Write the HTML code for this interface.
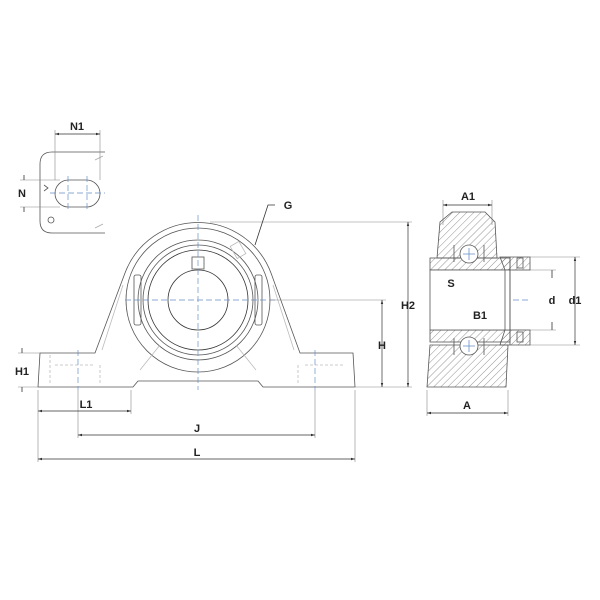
<!DOCTYPE html>
<html><head><style>body{margin:0;background:#fff}svg{display:block}text{font-family:"Liberation Sans",sans-serif;font-weight:bold;font-size:11px;fill:#222}</style></head>
<body>
<svg width="600" height="600" viewBox="0 0 600 600" xmlns="http://www.w3.org/2000/svg">
<defs>
<pattern id="h" width="5" height="5" patternUnits="userSpaceOnUse" patternTransform="rotate(45)"><line x1="0" y1="0" x2="0" y2="5" stroke="#666" stroke-width="0.7"/></pattern>
<marker id="a" viewBox="0 0 10 10" refX="10" refY="5" markerWidth="6" markerHeight="6" orient="auto-start-reverse"><path d="M0,2L10,5L0,8z" fill="#333"/></marker>
</defs>
<g fill="none" stroke="#555" stroke-width="0.8">
<!-- inset -->
<path d="M105,152 H52 Q40,152 40,164 V221 Q40,233 52,233 H105"/>
<path d="M44,185 l4,3 -4,3"/>
<rect x="55" y="180" width="45" height="27" rx="13.5"/>
<circle cx="51" cy="220" r="3"/>
<path d="M95,160 l8,-4 M95,228 l8,-4" stroke="#aaa"/>
<!-- main body -->
<path d="M38,387 L40,353 H95 L125,273 A78,78 0 0 1 271,273 L300,353 H353 L355,387 H263 L258,381 H138 L133,387 Z"/>
<circle cx="198" cy="300" r="72"/>
<circle cx="198" cy="300" r="60"/>
<circle cx="198" cy="300" r="55"/>
<circle cx="198" cy="300" r="50" stroke="#333"/>
<circle cx="198" cy="300" r="30" stroke="#333"/>
<rect x="134" y="275" width="7" height="50" rx="2"/>
<rect x="255" y="275" width="7" height="50" rx="2"/>
<rect x="192" y="257" width="12" height="12"/>
<rect x="233" y="243" width="10" height="14" stroke="#bbb" transform="rotate(-30 238 250)"/>
<path d="M50,355 V385 M305,365 H345 M55,365 H95 M100,365 V383 M298,365 V383" stroke="#bbb" stroke-dasharray="3,2"/>
<path d="M123,285 L102,350 M273,285 L294,350 M140,370 L160,345 M256,370 L236,345" stroke="#bbb"/>
<!-- centerlines -->
<g stroke="#6a8fc8" stroke-dasharray="6,3" stroke-width="0.7">
<line x1="198" y1="215" x2="198" y2="390"/><line x1="125" y1="300" x2="275" y2="300"/>
<line x1="78" y1="350" x2="78" y2="390"/><line x1="315" y1="350" x2="315" y2="390"/>
<line x1="68" y1="176" x2="68" y2="212"/><line x1="87" y1="176" x2="87" y2="212"/><line x1="50" y1="193" x2="105" y2="193"/>
<line x1="432" y1="300" x2="530" y2="300"/>
</g>
<!-- extension lines -->
<g stroke="#888" stroke-width="0.6">
<line x1="210" y1="222" x2="412" y2="222"/><line x1="270" y1="300" x2="386" y2="300"/><line x1="355" y1="387" x2="412" y2="387"/>
<line x1="18" y1="353" x2="40" y2="353"/><line x1="18" y1="387" x2="38" y2="387"/>
<line x1="38" y1="390" x2="38" y2="462"/><line x1="355" y1="390" x2="355" y2="462"/><line x1="131" y1="390" x2="131" y2="414"/>
<line x1="78" y1="390" x2="78" y2="438"/><line x1="315" y1="390" x2="315" y2="438"/>
<line x1="55" y1="130" x2="55" y2="180"/><line x1="100" y1="130" x2="100" y2="180"/>
<line x1="20" y1="180" x2="60" y2="180"/><line x1="20" y1="207" x2="60" y2="207"/>
<line x1="443" y1="200" x2="443" y2="225"/><line x1="492" y1="200" x2="492" y2="225"/>
<line x1="427" y1="390" x2="427" y2="416"/><line x1="508" y1="390" x2="508" y2="416"/>
<line x1="530" y1="257" x2="580" y2="257"/><line x1="530" y1="345" x2="580" y2="345"/>
<line x1="512" y1="270" x2="556" y2="270"/><line x1="512" y1="330" x2="556" y2="330"/>
</g>
<!-- dimension lines -->
<g stroke="#333" stroke-width="0.7" marker-start="url(#a)" marker-end="url(#a)">
<line x1="38" y1="411" x2="131" y2="411"/><line x1="78" y1="435" x2="315" y2="435"/><line x1="38" y1="459" x2="355" y2="459"/>
<line x1="408" y1="222" x2="408" y2="387"/><line x1="382" y1="300" x2="382" y2="387"/>
<line x1="55" y1="134" x2="100" y2="134"/>
<line x1="443" y1="205" x2="492" y2="205"/><line x1="427" y1="413" x2="508" y2="413"/>
<line x1="433" y1="291" x2="467" y2="291"/><line x1="433" y1="322" x2="510" y2="322"/>
<line x1="575" y1="257" x2="575" y2="345"/>
</g>
<path d="M22,348 V353 M22,387 V392 M24,175 V180 M24,207 V212 M552,270 V278 M552,322 V330" stroke="#333"/>
<path d="M275,205 H268 L255,245" stroke="#333"/>
<!-- section view -->
<path d="M437,258 L440,222 L452,212 H485 L495,222 L497,258 Z" fill="url(#h)"/>
<path d="M427,387 L430,345 H508 L506,387 Z" fill="url(#h)"/>
<rect x="430" y="258" width="80" height="12" fill="url(#h)"/>
<rect x="430" y="330" width="80" height="12" fill="url(#h)"/>
<path d="M500,257 H530 V270 H505 Z M500,345 H530 V330 H505 Z" fill="url(#h)"/>
<rect x="430" y="270" width="80" height="60" fill="#fff"/>
<path d="M505,270 V330 M510,257 V345" />
<circle cx="469" cy="254" r="9" fill="#fff"/><circle cx="469" cy="346" r="9" fill="#fff"/>
<path d="M469,248 V260 M463,254 H475 M469,340 V352 M463,346 H475" stroke="#6a8fc8"/>
<path d="M454,245 V262 M484,245 V262 M454,338 V355 M484,338 V355"/>
<rect x="517" y="258" width="6" height="10"/><rect x="517" y="332" width="6" height="10"/>
</g>
<text x="77" y="130" text-anchor="middle">N1</text>
<text x="22" y="197" text-anchor="middle">N</text>
<text x="288" y="209" text-anchor="middle">G</text>
<text x="408" y="309" text-anchor="middle">H2</text>
<text x="382" y="349" text-anchor="middle">H</text>
<text x="22" y="375" text-anchor="middle">H1</text>
<text x="86" y="408" text-anchor="middle">L1</text>
<text x="197" y="432" text-anchor="middle">J</text>
<text x="197" y="456" text-anchor="middle">L</text>
<text x="468" y="200" text-anchor="middle">A1</text>
<text x="451" y="287" text-anchor="middle">S</text>
<text x="480" y="319" text-anchor="middle">B1</text>
<text x="552" y="304" text-anchor="middle">d</text>
<text x="575" y="304" text-anchor="middle">d1</text>
<text x="467" y="409" text-anchor="middle">A</text>
</svg>
</body></html>
